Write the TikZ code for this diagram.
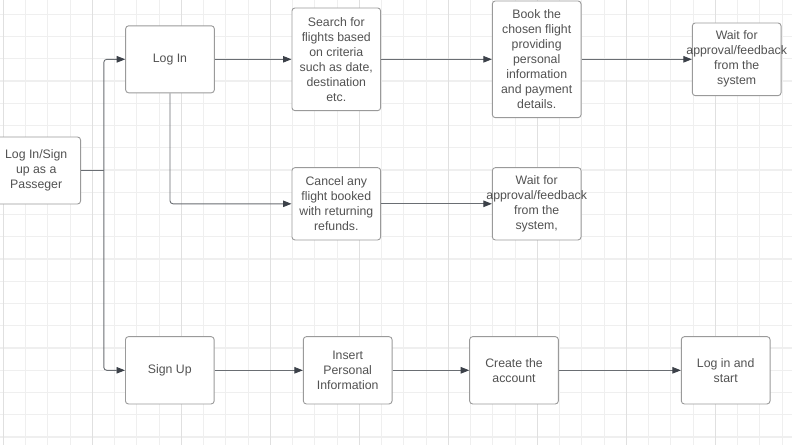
\documentclass[tikz,border=0pt]{standalone}
\usepackage{fontspec}
\setmainfont{Liberation Sans}
\usetikzlibrary{arrows.meta}

\definecolor{gridminor}{HTML}{EFEFEF}
\definecolor{gridmajor}{HTML}{E0E0E0}
\definecolor{boxborder}{HTML}{9A9A9A}
\definecolor{linkgray}{HTML}{6A6E73}
\definecolor{tipgray}{HTML}{3C4149}
\definecolor{textgray}{HTML}{525252}

\begin{document}
\begin{tikzpicture}[x=1pt,y=-1pt,
    stepbox/.style={draw=boxborder, line width=0.9pt, rounded corners=3pt, fill=white,
        minimum width=88.7pt, inner sep=2pt, align=center, text=textgray,
        font=\fontsize{12.3}{15}\selectfont},
    link/.style={draw=linkgray, line width=0.9pt, rounded corners=3pt},
    arrow/.style={link, -{Triangle[length=8.5pt,width=6.5pt,color=tipgray]}}]

    % --- Frame ---
    % Page size of the reference, everything outside is cut off
    \useasboundingbox (0,0) rectangle (792,445);
    \clip (0,0) rectangle (792,445);
    \fill[white] (0,0) rectangle (792,445);

    % --- Background Grid ---
    % Thin lines every cell, a darker vertical one every fourth cell
    \foreach \k [evaluate=\k as \gx using 3.3+22.25*\k] in {0,...,35}
        \draw[gridminor, line width=0.8pt] (\gx,0) -- (\gx,445);
    \foreach \k [evaluate=\k as \gy using 14.2+22.25*\k] in {0,...,19}
        \draw[gridminor, line width=1.1pt] (0,\gy) -- (792,\gy);
    \foreach \k [evaluate=\k as \gx using 3.3+89*\k] in {0,...,8}
        \draw[gridmajor, line width=0.8pt] (\gx,0) -- (\gx,445);

    % --- Start Box ---
    % Partly cut by the left edge of the page
    \node[stepbox, minimum height=67pt] (Start) at (36.2,170.5)
        {Log In/Sign\\up as a\\Passeger};

    % --- Log In Branch ---
    % Top row
    \node[stepbox, minimum height=67pt] (LogIn) at (170,59.3) {Log In};
    \node[stepbox, minimum height=102.7pt] (Search) at (336.3,59.3)
        {Search for\\flights based\\on criteria\\such as date,\\destination\\etc.};
    \node[stepbox, minimum height=116.7pt] (Book) at (536.7,59.3)
        {Book the\\chosen flight\\providing\\personal\\information\\and payment\\details.};
    \node[stepbox, minimum height=72.7pt] (WaitBook) at (736.7,59.3)
        {Wait for\\\makebox[80pt]{approval/feedback}\\from the\\system};

    % Middle row
    \node[stepbox, minimum height=72.3pt] (Cancel) at (336.3,203.8)
        {Cancel any\\flight booked\\with returning\\refunds.};
    \node[stepbox, minimum height=72.3pt] (WaitCancel) at (536.7,203.8)
        {Wait for\\\makebox[80pt]{approval/feedback}\\from the\\system,};

    % --- Sign Up Branch ---
    % Bottom row
    \node[stepbox, minimum height=67.3pt] (SignUp) at (169.8,370.3) {Sign Up};
    \node[stepbox, minimum height=67.3pt] (Insert) at (347.7,370.3)
        {Insert\\Personal\\Information};
    \node[stepbox, minimum height=67.3pt] (Create) at (514,370.3)
        {Create the\\account};
    \node[stepbox, minimum height=67.3pt] (StartApp) at (725.7,370.3)
        {Log in and\\start};

    % --- Connectors ---
    % Fork point right of the start box
    \coordinate (Fork) at ([xshift=22.8pt]Start.east);
    \draw[link] (Start.east) -- (Fork);
    \draw[arrow] (Fork) |- (LogIn.west);
    \draw[arrow] (Fork) |- (SignUp.west);

    % Log in flow
    \draw[arrow] (LogIn.east) -- (Search.west);
    \draw[arrow] (Search.east) -- (Book.west);
    \draw[arrow] (Book.east) -- (WaitBook.west);
    \draw[arrow] (LogIn.south) |- (Cancel.west);
    \draw[arrow] (Cancel.east) -- (WaitCancel.west);

    % Sign up flow
    \draw[arrow] (SignUp.east) -- (Insert.west);
    \draw[arrow] (Insert.east) -- (Create.west);
    \draw[arrow] (Create.east) -- (StartApp.west);

\end{tikzpicture}
\end{document}
